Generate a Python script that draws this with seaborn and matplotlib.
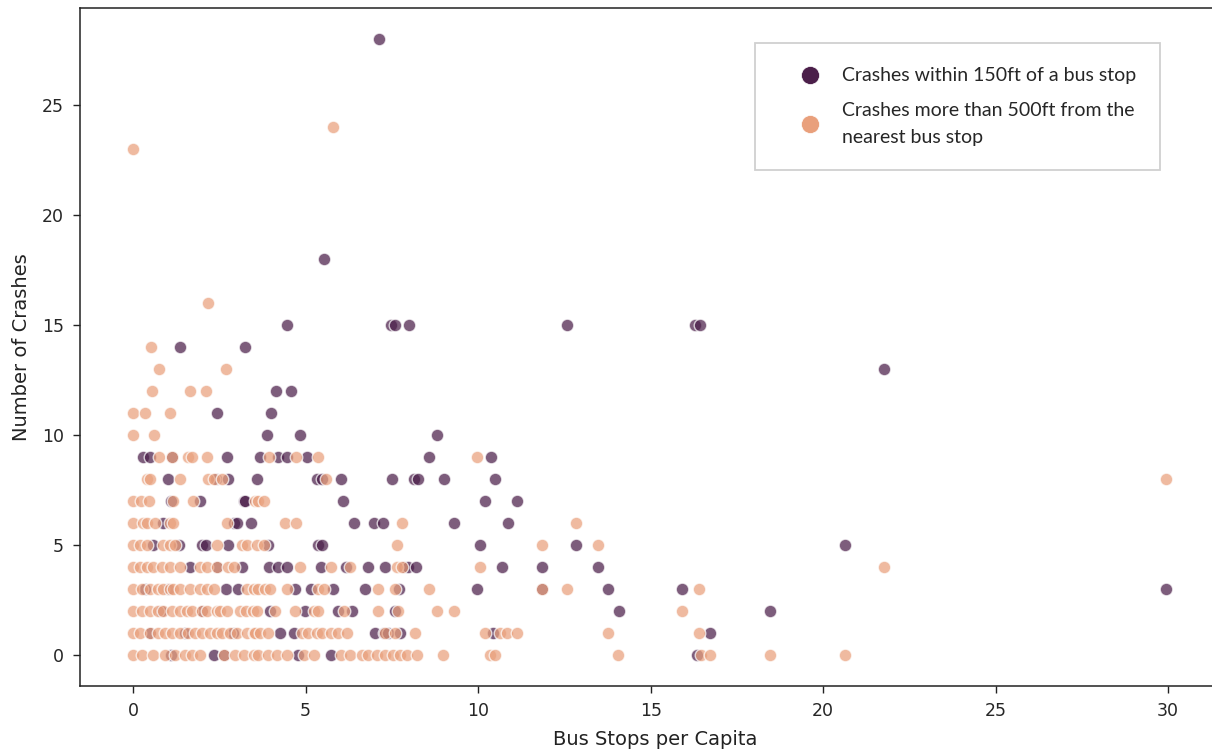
import matplotlib
matplotlib.use("Agg")
import matplotlib.pyplot as plt
from matplotlib.lines import Line2D
import seaborn as sns
import pandas as pd

# Crashes within 150ft of a bus stop
near_x = [7.14, 5.53, 4.47, 7.47, 7.59, 7.99, 12.57, 16.29, 16.43, 21.77, 1.36, 3.23, 4.14, 4.59, 2.43, 3.99, 3.87, 4.83, 8.80,
          0.30, 0.49, 1.14, 2.72, 3.68, 4.19, 4.45, 5.03, 8.58, 10.37,
          1.02, 2.41, 2.76, 3.60, 5.32, 5.47, 6.03, 7.50, 8.14, 8.26, 9.00, 10.49,
          1.10, 1.94, 3.20, 3.24, 6.07, 10.20, 11.12,
          0.88, 2.91, 3.00, 3.41, 6.39, 6.97, 7.23, 9.30, 10.86,
          0.59, 1.34, 1.99, 2.12, 2.76, 3.92, 5.37, 5.47, 10.06, 12.83, 20.64,
          1.65, 2.43, 3.15, 3.94, 4.21, 4.45, 5.45, 6.16, 6.82, 7.30, 7.84, 7.98, 8.20, 10.70, 11.85, 13.46,
          0.35, 1.00, 2.70, 3.05, 4.70, 5.16, 5.78, 6.71, 7.70, 9.98, 11.85, 13.76, 15.92, 29.93,
          0.80, 2.00, 3.97, 4.99, 5.95, 6.34, 7.60, 14.07, 18.46,
          0.50, 1.50, 2.90, 4.26, 4.65, 7.01, 7.26, 7.40, 7.74, 10.44, 16.72,
          1.10, 2.35, 2.62, 4.79, 5.74, 16.35]
near_y = [28, 18, 15, 15, 15, 15, 15, 15, 15, 13, 14, 14, 12, 12, 11, 11, 10, 10, 10,
          9, 9, 9, 9, 9, 9, 9, 9, 9, 9,
          8, 8, 8, 8, 8, 8, 8, 8, 8, 8, 8, 8,
          7, 7, 7, 7, 7, 7, 7,
          6, 6, 6, 6, 6, 6, 6, 6, 6,
          5, 5, 5, 5, 5, 5, 5, 5, 5, 5, 5,
          4, 4, 4, 4, 4, 4, 4, 4, 4, 4, 4, 4, 4, 4, 4, 4,
          3, 3, 3, 3, 3, 3, 3, 3, 3, 3, 3, 3, 3, 3,
          2, 2, 2, 2, 2, 2, 2, 2, 2,
          1, 1, 1, 1, 1, 1, 1, 1, 1, 1, 1,
          0, 0, 0, 0, 0, 0]

# Crashes more than 500ft from the nearest bus stop
far_x = [0.00, 5.79, 2.17, 0.51, 0.76, 2.69, 0.56, 1.66, 2.12, 0.00, 0.35, 1.07, 0.00, 0.61, 29.93,
         0.75, 1.14, 1.60, 1.70, 2.14, 3.94, 4.71, 5.35, 9.98,
         0.40, 0.49, 1.36, 2.18, 2.33, 2.57, 5.59,
         0.00, 0.22, 0.47, 1.16, 1.73, 3.54, 3.63, 3.78,
         0.00, 0.30, 0.40, 0.64, 1.07, 1.16, 2.72, 4.39, 4.71, 7.80, 12.83,
         0.00, 0.20, 0.40, 0.88, 1.07, 1.22, 2.43, 3.15, 3.30, 3.59, 3.78, 7.64, 11.85, 13.46,
         0.00, 0.20, 0.40, 0.59, 0.83, 1.07, 1.36, 1.94, 2.14, 2.43, 2.76, 2.91, 4.84, 5.74, 6.29, 7.64, 7.79, 10.06, 21.77,
         0.00, 0.25, 0.49, 0.73, 0.88, 1.07, 1.17, 1.36, 1.65, 1.94, 2.14, 2.33, 3.30, 3.49, 3.63, 3.83, 3.97, 4.45,
         5.37, 5.52, 7.11, 7.59, 8.59, 11.85, 12.57, 16.39,
         0.00, 0.25, 0.49, 0.73, 0.88, 1.12, 1.36, 1.55, 1.70, 1.99, 2.14, 2.43, 2.52, 2.72, 3.09, 3.28, 3.47, 3.60,
         4.12, 4.68, 5.23, 5.37, 6.10, 7.11, 7.69, 8.80, 9.30, 15.92,
         0.00, 0.20, 0.49, 0.73, 0.93, 1.12, 1.36, 1.60, 1.79, 1.99, 2.23, 2.43, 2.57, 2.81, 3.00, 3.30, 3.49, 3.54,
         3.68, 3.92, 4.89, 5.08, 5.32, 5.47, 5.74, 5.95, 6.19, 7.30, 7.59, 8.17, 10.20, 10.64, 10.85, 11.12, 13.76, 16.39,
         0.00, 0.25, 0.59, 0.93, 1.22, 1.50, 1.70, 1.94, 2.62, 2.96, 3.20, 3.49, 3.63, 3.92, 4.17, 4.45, 4.94, 5.23,
         6.03, 6.29, 6.63, 6.82, 7.06, 7.30, 7.54, 7.74, 7.93, 8.22, 8.99, 10.35, 10.49, 14.05, 16.46, 16.72, 18.46, 20.64]
far_y = [23, 24, 16, 14, 13, 13, 12, 12, 12, 11, 11, 11, 10, 10, 8,
         9, 9, 9, 9, 9, 9, 9, 9, 9,
         8, 8, 8, 8, 8, 8, 8,
         7, 7, 7, 7, 7, 7, 7, 7,
         6, 6, 6, 6, 6, 6, 6, 6, 6, 6, 6,
         5, 5, 5, 5, 5, 5, 5, 5, 5, 5, 5, 5, 5, 5,
         4, 4, 4, 4, 4, 4, 4, 4, 4, 4, 4, 4, 4, 4, 4, 4, 4, 4, 4,
         3, 3, 3, 3, 3, 3, 3, 3, 3, 3, 3, 3, 3, 3, 3, 3, 3, 3,
         3, 3, 3, 3, 3, 3, 3, 3,
         2, 2, 2, 2, 2, 2, 2, 2, 2, 2, 2, 2, 2, 2, 2, 2, 2, 2,
         2, 2, 2, 2, 2, 2, 2, 2, 2, 2,
         1, 1, 1, 1, 1, 1, 1, 1, 1, 1, 1, 1, 1, 1, 1, 1, 1, 1,
         1, 1, 1, 1, 1, 1, 1, 1, 1, 1, 1, 1, 1, 1, 1, 1, 1, 1,
         0, 0, 0, 0, 0, 0, 0, 0, 0, 0, 0, 0, 0, 0, 0, 0, 0, 0,
         0, 0, 0, 0, 0, 0, 0, 0, 0, 0, 0, 0, 0, 0, 0, 0, 0, 0]

series_labels = ["Crashes within 150ft of a bus stop",
                 "Crashes more than 500ft from the\nnearest bus stop"]
series_colors = ["#4b1f4a", "#e9a07c"]

sns.set_style("ticks")
plt.rcParams["font.family"] = ["DejaVu Sans"]

fig = plt.figure(figsize=(12.12, 7.49), dpi=100)
ax_w_px = 1150
ax = fig.add_axes([80 / 1212, 63 / 749, ax_w_px / 1212, 678 / 749])

near_df = pd.DataFrame({"x": near_x, "y": near_y})
far_df = pd.DataFrame({"x": far_x, "y": far_y})

sns.scatterplot(data=near_df, x="x", y="y", color=series_colors[0], alpha=0.72,
                s=82, edgecolor="white", linewidth=1.0, ax=ax, legend=False)
sns.scatterplot(data=far_df, x="x", y="y", color=series_colors[1], alpha=0.72,
                s=82, edgecolor="white", linewidth=1.0, ax=ax, legend=False)

# keep the reference scale (34.5 px per unit), right spine falls just outside
ax.set_xlim(-1.54, -1.54 + ax_w_px / 34.5)
ax.set_xticks([0, 5, 10, 15, 20, 25, 30])
ax.set_yticks([0, 5, 10, 15, 20, 25])
ax.tick_params(labelsize=12.5, length=5, width=1, color="#222222", pad=6.5)
ax.set_xlabel("Bus Stops per Capita", fontsize=14, color="#222222", labelpad=7.5)
ax.set_ylabel("Number of Crashes", fontsize=14, color="#222222", labelpad=8)
for sp in ax.spines.values():
    sp.set_color("#222222")
    sp.set_linewidth(1.1)

handles = [Line2D([], [], marker="o", linestyle="", markersize=13,
                  markerfacecolor=c, markeredgecolor="white", markeredgewidth=0.5)
           for c in series_colors]
leg = ax.legend(handles, series_labels, loc="upper left",
                bbox_to_anchor=((755 - 80) / ax_w_px, (686 - 43) / 678),
                frameon=True, fancybox=False, edgecolor="#c4c4c4",
                prop={"family": "Lato", "size": 14},
                borderpad=1.25, handlelength=3.2, handletextpad=0.0,
                labelspacing=0.9, borderaxespad=0)
leg.get_frame().set_linewidth(1.3)
for t in leg.get_texts():
    t.set_linespacing(1.7)

fig.savefig("out.png", dpi=100)
